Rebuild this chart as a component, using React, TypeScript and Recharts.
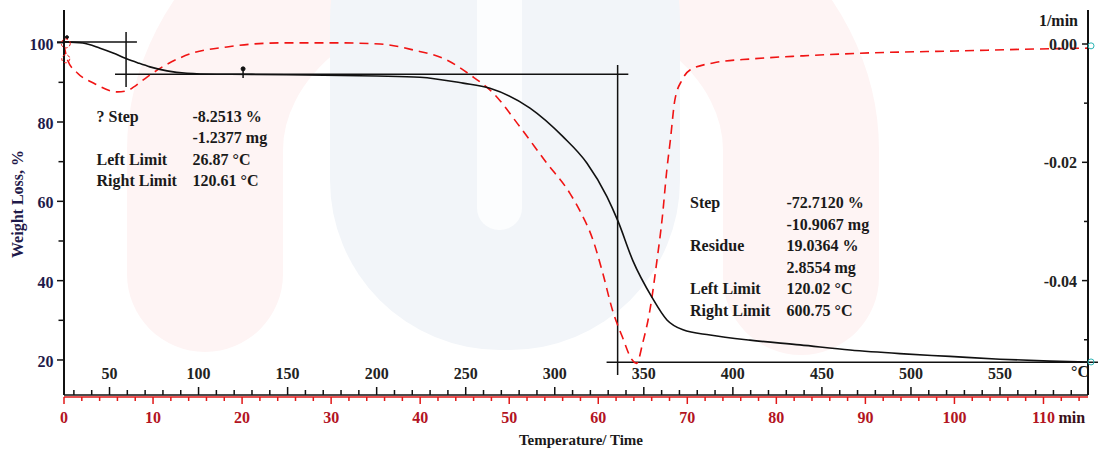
import React from 'react';
import { ComposedChart, Line, XAxis, YAxis, ReferenceLine, ReferenceDot } from 'recharts';

const FONT = "'Liberation Serif', 'Times New Roman', serif";

// TGA curve: temperature (°C) vs weight (%)
const tgaTemp = [24.5, 35, 44.7, 52, 59.3, 66, 72.7, 82.3, 93.5, 110, 130, 160, 200, 224.3, 248.5, 263.6, 286.1, 304.6, 318.1, 329.3, 335.5, 343.9, 354.6, 363, 372, 387.2, 409.6, 437.7, 465.8, 493.8, 521.9, 550, 578.1, 599.4];
const tgaWeight = [100.2, 99.9, 98.6, 97.4, 96.0, 94.9, 93.9, 92.9, 92.3, 92.05, 92.0, 91.85, 91.6, 91.3, 89.8, 88.5, 83.5, 76.3, 69.6, 61.2, 55.0, 45.0, 35.8, 30.1, 27.6, 26.3, 25.0, 23.8, 22.5, 21.6, 20.9, 20.2, 19.7, 19.45];

// DTG curve: time (min) vs rate (1/min)
const dtgTime = [0, 0.4, 1.5, 3.3, 6.0, 7.1, 7.8, 9.4, 11.6, 14.5, 18.3, 21.2, 25, 30, 35.5, 39.2, 43.0, 45.6, 48.2, 51.2, 54.2, 56.8, 57.9, 59.4, 60.5, 61.6, 62.7, 63.8, 64.3, 65.0, 65.8, 66.6, 67.2, 67.7, 68.1, 68.6, 69.4, 70.3, 72.9, 77.4, 83.0, 90.5, 99.5, 110.7, 115];
const dtgRate = [-0.0002, -0.0027, -0.0049, -0.0066, -0.0081, -0.0079, -0.0073, -0.0055, -0.0034, -0.0015, -0.0005, 0, 0.0002, 0.0002, 0.0, -0.001, -0.0027, -0.0052, -0.0083, -0.014, -0.0201, -0.0252, -0.0281, -0.0331, -0.0387, -0.045, -0.0495, -0.0534, -0.054, -0.0505, -0.045, -0.0365, -0.0292, -0.0213, -0.0162, -0.0095, -0.0061, -0.0044, -0.0032, -0.0025, -0.002, -0.0015, -0.0012, -0.0008, -0.0007];

// Axis ticks
const tempTicks = Array.from({ length: 57 }, (_, i) => 30 + i * 10);
const timeTicks = Array.from({ length: 58 }, (_, i) => i * 2);
const weightTicks = [20, 30, 40, 50, 60, 70, 80, 90, 100];
const rateTicks = [-0.05, -0.04, -0.03, -0.02, -0.01, 0];

// Step analysis construction lines (temperature, weight)
const stepLines = [
  [[20.5, 100.18], [65.4, 100.18]],
  [[59.3, 102.7], [59.3, 88.8]],
  [[53.1, 92.03], [341.3, 92.03]],
  [[335.3, 94.4], [335.3, 16.2]],
  [[329.1, 19.4], [605, 19.4]],
  [[125, 91.1], [125, 93.4]],
];

const leftLabels = ['? Step', '', 'Left Limit', 'Right Limit'];
const leftValues = ['-8.2513 %', '-1.2377 mg', '26.87 °C', '120.61 °C'];
const rightLabels = ['Step', '', 'Residue', '', 'Left Limit', 'Right Limit'];
const rightValues = ['-72.7120 %', '-10.9067 mg', '19.0364 %', '2.8554 mg', '120.02 °C', '600.75 °C'];

const tgaData = tgaTemp.map((T, i) => ({ T, W: tgaWeight[i] }));
const dtgData = dtgTime.map((t, i) => ({ t, V: dtgRate[i] }));

const TINY = 0.01;
const TEMP_AXIS_H = 2;

function TempTick(props: any) {
  const { x, y, payload } = props;
  const v = payload.value;
  const major = v % 50 === 0;
  return (
    <g>
      <line x1={x} y1={y} x2={x} y2={y - (major ? 8 : 5)} stroke="#111" strokeWidth={1.5} />
      {major && (
        <text x={x} y={y - 16.5} textAnchor="middle" fontFamily={FONT} fontWeight="bold" fontSize={16} fill="#222">
          {v}
        </text>
      )}
    </g>
  );
}

function TimeTick(props: any) {
  const { x, y, payload } = props;
  const v = payload.value;
  const major = v % 10 === 0;
  return (
    <g>
      <line x1={x} y1={y} x2={x} y2={y + (major ? 7 : 4)} stroke="#e01818" strokeWidth={1.5} />
      {major && (
        <text x={x} y={y + 26} textAnchor="middle" fontFamily={FONT} fontWeight="bold" fontSize={16} fill="#b3141f">
          {v}
        </text>
      )}
      {v === 110 && (
        <text x={x + 15} y={y + 26} textAnchor="start" fontFamily={FONT} fontWeight="bold" fontSize={16} fill="#3a1018">
          min
        </text>
      )}
    </g>
  );
}

function WtTick(props: any) {
  const { x, y, payload } = props;
  const v = payload.value;
  const major = v % 20 === 0;
  return (
    <g>
      <line x1={x} y1={y} x2={x - (major ? 7 : 5.5)} y2={y} stroke="#111" strokeWidth={1.5} />
      {major && (
        <text x={x - 10.5} y={y + 7} textAnchor="end" fontFamily={FONT} fontWeight="bold" fontSize={16} fill="#1f1a4a">
          {v}
        </text>
      )}
    </g>
  );
}

function RateTick(props: any) {
  const { x, y, payload } = props;
  const v = payload.value;
  const idx = Math.round(Math.abs(v) * 100);
  const major = idx % 2 === 0;
  return (
    <g>
      <line x1={x} y1={y} x2={x - (major ? 6 : 4)} y2={y} stroke="#111" strokeWidth={1.5} />
      {major && (
        <text x={x - 11} y={y + 6} textAnchor="end" fontFamily={FONT} fontWeight="bold" fontSize={16} fill="#222">
          {v === 0 ? '0.00' : v.toFixed(2)}
        </text>
      )}
    </g>
  );
}

const txt = { fontFamily: FONT, fontWeight: 'bold' as const, fontSize: 16, fill: '#1a1a1a' };

export default function App() {
  return (
    <div style={{ position: 'absolute', left: 0, top: 0, width: 1099, height: 452, background: '#fff', overflow: 'hidden' }}>
      <svg width={1099} height={452} style={{ position: 'absolute', left: 0, top: 0 }}>
        <path d="M205,274 L205,150 A298,230 0 0 1 801,150 L801,277" stroke="#fef4f4" strokeWidth={156} fill="none" strokeLinecap="round" />
        <rect x={330} y={-150} width={350} height={500} rx={170} fill="#f2f5f9" />
        <rect x={477} y={-20} width={45} height={250} rx={22} fill="#fcfdfe" />
      </svg>
      <div style={{ position: 'absolute', left: 0, top: 0 }}>
        <ComposedChart width={1099} height={452} margin={{ top: 10, right: 11 - TINY, bottom: 57 - TEMP_AXIS_H - TINY, left: 0 }}>
          <XAxis
            xAxisId="temp"
            dataKey="T"
            type="number"
            domain={[24.45, 599.4]}
            allowDataOverflow
            ticks={tempTicks}
            interval={0}
            height={TEMP_AXIS_H}
            tickSize={0}
            tickMargin={0}
            tickLine={false}
            tick={<TempTick />}
            axisLine={{ stroke: '#111', strokeWidth: 1.5 }}
          />
          <XAxis
            xAxisId="time"
            dataKey="t"
            type="number"
            domain={[0, 115]}
            allowDataOverflow
            ticks={timeTicks}
            interval={0}
            height={TINY}
            tickSize={0}
            tickMargin={0}
            tickLine={false}
            tick={<TimeTick />}
            axisLine={{ stroke: '#e01818', strokeWidth: 1.5 }}
          />
          <YAxis
            yAxisId="wt"
            orientation="left"
            type="number"
            width={64}
            domain={[11.17, 108.24]}
            allowDataOverflow
            ticks={weightTicks}
            interval={0}
            tickSize={0}
            tickMargin={0}
            tickLine={false}
            tick={<WtTick />}
            axisLine={{ stroke: '#111', strokeWidth: 2 }}
          />
          <YAxis
            yAxisId="dtg"
            orientation="right"
            type="number"
            width={TINY}
            domain={[-0.05934, 0.00575]}
            allowDataOverflow
            ticks={rateTicks}
            interval={0}
            tickSize={0}
            tickMargin={0}
            tickLine={false}
            tick={<RateTick />}
            axisLine={{ stroke: '#111', strokeWidth: 2 }}
          />
          {stepLines.map((s, i) => (
            <ReferenceLine
              key={i}
              xAxisId="temp"
              yAxisId="wt"
              segment={[{ x: s[0][0], y: s[0][1] }, { x: s[1][0], y: s[1][1] }]}
              stroke="#111"
              strokeWidth={1.5}
              ifOverflow="visible"
            />
          ))}
          <Line
            xAxisId="time"
            yAxisId="dtg"
            data={dtgData}
            dataKey="V"
            type="monotone"
            stroke="#f01414"
            strokeWidth={1.6}
            strokeDasharray="9 6"
            dot={false}
            activeDot={false}
            isAnimationActive={false}
          />
          <Line
            xAxisId="temp"
            yAxisId="wt"
            data={tgaData}
            dataKey="W"
            type="monotone"
            stroke="#111"
            strokeWidth={1.6}
            dot={false}
            activeDot={false}
            isAnimationActive={false}
          />
          <ReferenceDot xAxisId="temp" yAxisId="wt" x={125} y={93.4} r={2} fill="#111" stroke="#111" ifOverflow="visible" />
          <ReferenceDot xAxisId="temp" yAxisId="wt" x={26.1} y={101.4} r={1.5} fill="#111" stroke="#111" ifOverflow="visible" />
          <ReferenceDot xAxisId="time" yAxisId="dtg" x={0.2} y={0.0001} r={4.5} fill="none" stroke="#f01414" strokeDasharray="3 2" ifOverflow="visible" />
          <ReferenceDot xAxisId="time" yAxisId="dtg" x={0.2} y={-0.0025} r={4} fill="none" stroke="#f01414" strokeDasharray="3 2" ifOverflow="visible" />
          <ReferenceDot xAxisId="temp" yAxisId="wt" x={601.1} y={99.2} r={3} fill="none" stroke="#2bb5b5" ifOverflow="visible" />
          <ReferenceDot xAxisId="temp" yAxisId="wt" x={601.1} y={19.5} r={3} fill="none" stroke="#2bb5b5" ifOverflow="visible" />
        </ComposedChart>
      </div>
      <svg width={1099} height={452} style={{ position: 'absolute', left: 0, top: 0, pointerEvents: 'none' }}>
        {leftLabels.map((l, i) => (
          <text key={'ll' + i} x={96.5} y={121.5 + i * 21.5} {...txt}>{l}</text>
        ))}
        {leftValues.map((l, i) => (
          <text key={'lv' + i} x={192.5} y={121.5 + i * 21.5} {...txt}>{l}</text>
        ))}
        {rightLabels.map((l, i) => (
          <text key={'rl' + i} x={690} y={208 + i * 21.5} {...txt}>{l}</text>
        ))}
        {rightValues.map((l, i) => (
          <text key={'rv' + i} x={786.5} y={208 + i * 21.5} {...txt}>{l}</text>
        ))}
        <text x={1078} y={26} textAnchor="end" {...txt}>1/min</text>
        <text x={1071} y={377} {...txt}>°C</text>
        <text x={581} y={445} textAnchor="middle" fontFamily={FONT} fontWeight="bold" fontSize={15} fill="#1a1a1a">Temperature/ Time</text>
        <text x={0} y={0} transform="translate(23,204) rotate(-90)" textAnchor="middle" fontFamily={FONT} fontWeight="bold" fontSize={16} fill="#1f1a4a">Weight Loss, %</text>
      </svg>
    </div>
  );
}
